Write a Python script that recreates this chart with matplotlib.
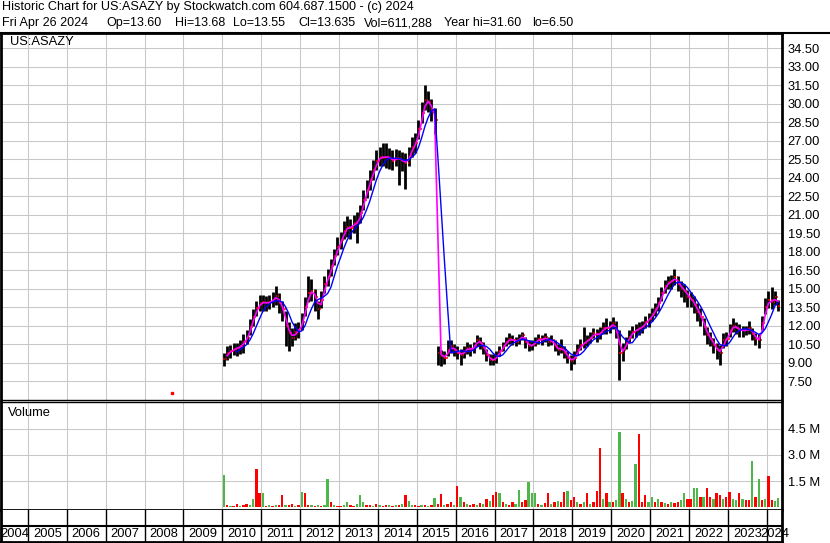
import numpy as np
import pandas as pd
import matplotlib
matplotlib.use('Agg')
import matplotlib.pyplot as plt

# monthly bars, Jan 2010 .. Apr 2024
first_year = 2010
closes = [
    9.3, 9.8, 9.9, 10.1, 10.2, 10.3, 10.7, 11.0, 11.9, 12.7, 13.4, 13.8,      # 2010
    13.9, 13.8, 13.9, 14.1, 14.4, 13.8, 13.3, 12.0, 11.4, 11.0, 11.5, 11.6,   # 2011
    12.3, 13.5, 14.6, 14.8, 14.3, 13.3, 14.1, 15.4, 15.9, 16.8, 17.6, 18.4,   # 2012
    18.9, 19.7, 20.0, 19.9, 20.3, 20.3, 21.1, 22.2, 23.0, 23.8, 24.6, 25.3,   # 2013
    25.7, 25.6, 25.7, 25.6, 25.3, 25.6, 25.5, 25.3, 25.2, 25.7, 26.5, 26.8,   # 2014
    27.9, 29.2, 30.3, 30.1, 29.5, 28.7, 9.8, 9.5, 9.4, 10.0, 10.3, 10.0,      # 2015
    9.8, 9.6, 9.9, 10.2, 10.0, 10.3, 10.8, 10.6, 10.2, 9.6, 9.2, 9.2,         # 2016
    9.5, 9.9, 10.3, 10.7, 10.9, 10.8, 10.7, 10.9, 11.2, 10.7, 10.3, 10.4,     # 2017
    10.7, 10.9, 10.8, 11.1, 10.7, 10.8, 10.3, 10.0, 10.2, 9.8, 9.4, 9.1,      # 2018
    9.4, 10.0, 10.4, 10.6, 10.8, 11.0, 11.4, 11.2, 11.4, 11.8, 11.8, 11.9,    # 2019
    12.2, 11.5, 9.8, 10.0, 10.6, 11.1, 11.5, 11.6, 11.8, 11.9, 12.3, 12.5,    # 2020
    12.9, 13.3, 13.8, 14.6, 15.2, 15.5, 15.6, 15.9, 15.4, 15.0, 14.8, 14.3,   # 2021
    14.1, 13.7, 13.1, 12.7, 11.9, 11.2, 10.9, 10.4, 10.0, 9.8, 10.8, 10.9,    # 2022
    11.6, 12.0, 11.8, 11.6, 11.6, 11.6, 11.8, 11.3, 10.9, 10.8, 12.2, 13.5,   # 2023
    14.1, 13.9, 14.3, 13.6,                                                   # 2024
]
highs = [
    9.8, 10.3, 10.4, 10.6, 10.6, 10.8, 11.3, 11.6, 12.5, 13.3, 14.0, 14.5,
    14.5, 14.4, 14.5, 14.7, 15.2, 14.6, 14.0, 13.2, 12.3, 11.8, 12.2, 12.3,
    13.0, 14.3, 16.0, 15.8, 15.0, 14.0, 14.8, 16.0, 16.6, 17.4, 18.2, 19.2,
    19.6, 20.5, 20.9, 20.6, 21.0, 21.2, 21.8, 23.0, 23.8, 24.6, 25.4, 26.2,
    26.5, 26.8, 26.8, 26.4, 26.2, 26.3, 26.2, 26.1, 26.0, 26.5, 27.3, 27.6,
    28.7, 30.1, 31.5, 31.0, 30.4, 29.6, 10.3, 10.0, 9.9, 10.8, 10.8, 10.5,
    10.3, 10.1, 10.3, 10.7, 10.5, 10.7, 11.2, 11.1, 10.7, 10.1, 9.7, 9.7,
    9.9, 10.3, 10.7, 11.1, 11.4, 11.2, 11.1, 11.3, 11.5, 11.1, 10.8, 10.8,
    11.1, 11.3, 11.2, 11.4, 11.1, 11.2, 10.8, 10.5, 10.9, 10.3, 9.9, 9.6,
    9.9, 10.5, 10.9, 11.9, 11.2, 11.5, 11.8, 11.7, 11.9, 12.3, 12.6, 12.4,
    12.7, 12.4, 11.6, 10.6, 11.1, 11.6, 12.0, 12.1, 12.3, 12.4, 12.8, 13.0,
    13.4, 13.8, 14.3, 15.1, 15.7, 16.0, 16.1, 16.6, 16.0, 15.6, 15.4, 14.9,
    14.7, 14.4, 13.8, 13.4, 12.6, 11.9, 11.5, 11.0, 10.6, 10.4, 11.4, 11.5,
    12.1, 12.6, 12.3, 12.1, 12.0, 12.0, 12.4, 11.8, 11.4, 11.3, 12.8, 14.2,
    14.8, 15.1, 14.8, 14.1,
]
lows = [
    8.7, 9.2, 9.4, 9.6, 9.5, 9.7, 9.8, 10.5, 11.2, 12.0, 12.8, 13.2,
    13.2, 13.2, 13.3, 13.5, 13.7, 13.0, 12.4, 10.3, 9.9, 10.3, 10.8, 11.0,
    11.6, 12.8, 13.9, 14.0, 13.2, 12.5, 13.4, 14.6, 15.2, 16.0, 16.9, 17.7,
    18.2, 19.0, 19.2, 19.0, 19.5, 18.7, 20.3, 21.4, 22.3, 23.0, 23.8, 24.6,
    24.9, 24.9, 24.8, 24.7, 24.6, 24.9, 23.4, 24.5, 23.1, 24.9, 25.7, 26.0,
    27.1, 28.4, 29.5, 29.3, 28.6, 27.5, 8.8, 8.7, 8.9, 9.5, 9.8, 9.5,
    9.3, 8.8, 9.4, 9.7, 9.5, 9.8, 10.3, 10.1, 9.7, 9.1, 8.8, 8.8,
    9.0, 9.5, 9.9, 10.3, 10.5, 10.4, 10.3, 10.5, 10.8, 10.2, 9.9, 10.0,
    10.3, 10.5, 10.4, 10.7, 10.3, 10.4, 9.9, 9.6, 9.8, 9.4, 9.0, 8.4,
    8.9, 9.6, 10.0, 10.2, 10.3, 10.6, 11.0, 10.7, 10.9, 11.3, 11.3, 11.4,
    11.7, 11.0, 7.6, 9.1, 10.1, 10.6, 11.0, 11.1, 11.2, 11.4, 11.8, 11.9,
    12.4, 12.8, 13.2, 14.0, 14.6, 15.0, 15.0, 15.3, 14.8, 14.3, 13.9, 13.5,
    13.5, 13.0, 12.4, 12.0, 11.2, 10.5, 10.3, 9.8, 9.3, 8.8, 10.2, 10.3,
    11.1, 11.5, 11.3, 11.1, 11.1, 11.2, 11.3, 10.8, 10.4, 10.2, 11.6, 12.9,
    13.4, 13.3, 13.7, 13.2,
]
# volume in millions, g = up, r = down
volumes = [
    1.85, 0.15, 0.10, 0.10, 0.20, 0.10, 0.12, 0.17, 0.12, 0.50, 2.20, 0.85,
    0.85, 0.10, 0.15, 0.10, 0.12, 0.15, 0.70, 0.15, 0.12, 0.20, 0.10, 0.15,
    0.90, 0.85, 0.12, 0.15, 0.10, 0.12, 0.10, 0.15, 1.60, 0.30, 0.12, 0.10,
    0.10, 0.12, 0.30, 0.15, 0.10, 0.20, 0.70, 0.30, 0.15, 0.12, 0.10, 0.20,
    0.15, 0.10, 0.12, 0.15, 0.10, 0.12, 0.15, 0.20, 0.70, 0.35, 0.15, 0.12,
    0.10, 0.15, 0.12, 0.10, 0.15, 0.55, 0.20, 0.75, 0.15, 0.20, 0.30, 0.15,
    1.20, 0.60, 0.30, 0.20, 0.15, 0.20, 0.15, 0.25, 0.20, 0.50, 0.35, 0.70,
    0.90, 0.85, 0.30, 0.20, 0.15, 0.30, 0.20, 1.00, 0.30, 0.40, 1.45, 0.85,
    0.85, 0.20, 0.15, 0.25, 0.80, 0.20, 0.30, 0.35, 0.30, 0.90, 0.95, 0.40,
    0.60, 0.30, 0.20, 0.30, 0.85, 0.20, 0.30, 0.95, 3.40, 0.50, 0.80, 0.30,
    0.30, 0.40, 4.30, 0.80, 0.50, 0.30, 0.35, 2.50, 4.20, 0.30, 0.70, 0.30,
    0.60, 0.30, 0.50, 0.30, 0.25, 0.20, 0.30, 0.25, 0.30, 0.40, 0.85, 0.50,
    0.50, 1.10, 1.10, 0.60, 0.60, 1.10, 0.60, 0.50, 0.85, 0.70, 0.50, 0.60,
    0.90, 0.50, 0.40, 0.80, 0.50, 0.40, 0.40, 2.65, 0.60, 1.60, 0.40, 0.50,
    1.80, 0.40, 0.35, 0.55,
]
vol_dir = ("grgrrgrrggrr" "grgrgrrgrrgr" "grrgrgrggrgr" "rggrrgggrrgr"
           "grrgrgrgrggr" "rgrgrgrrgrrg" "rgrgrrgrgrgr" "rgrgrrggrrgg"
           "grgrrgrgrrgr" "rgrgrgrrrgrg" "rggrgrggrrrg" "grgrgrgrrggr"
           "rggrgrrgrrgr" "rggrgrrgrgrg" "rrgg")
# lone early print
early_date = 2008.7
early_price = 6.5
early_vol = 0.04

price_ticks = [7.5, 9.0, 10.5, 12.0, 13.5, 15.0, 16.5, 18.0, 19.5, 21.0,
               22.5, 24.0, 25.5, 27.0, 28.5, 30.0, 31.5, 33.0, 34.5]
vol_ticks = [1.5, 3.0, 4.5]
vol_labels = ['1.5 M', '3.0 M', '4.5 M']
years = list(range(2004, 2025))
x_start, x_end = 2004.31, 2024.39

header1 = 'Historic Chart for US:ASAZY by Stockwatch.com 604.687.1500 - (c) 2024'
header2 = ['Fri Apr 26 2024', 'Op=13.60', 'Hi=13.68', 'Lo=13.55', 'Cl=13.635',
           'Vol=611,288', 'Year hi=31.60', 'lo=6.50']
header2_x = [2, 106, 175, 233, 298, 364, 444, 532]

plt.rcParams['font.family'] = ['Liberation Sans', 'DejaVu Sans']

W, H = 830, 543
fig = plt.figure(figsize=(W / 100, H / 100), dpi=100)


def rect(x0, y0, x1, y1):
    return [x0 / W, 1 - y1 / H, (x1 - x0) / W, (y1 - y0) / H]


dates = first_year + np.arange(len(closes)) / 12 + 1 / 24
cl = pd.Series(closes)
opens = cl.shift(1).fillna(cl[0])
ma_short = cl.rolling(2).mean()
ma_long = cl.rolling(5).mean()
grid_c = '#c8c8c8'

# price panel
ax = fig.add_axes(rect(1, 33, 782, 400))
ax.set_xlim(x_start, x_end)
ax.set_ylim(5.96, 35.72)
for y in price_ticks:
    ax.axhline(y, color=grid_c, lw=0.75, zorder=0)
for yr in years[1:]:
    ax.axvline(yr, color=grid_c, lw=0.75, zorder=0)
ax.vlines(dates, lows, highs, color='black', lw=2.0, zorder=2)
ax.hlines(opens, dates - 0.03, dates, color='red', lw=1.1, zorder=3)
ax.hlines(closes, dates, dates + 0.035, color='red', lw=1.1, zorder=3)
ax.plot(dates, ma_short, color='#ff00ff', lw=1.2, zorder=4)
ax.plot(dates, ma_long, color='#0000ff', lw=1.0, zorder=5)
ax.plot([early_date], [early_price], 's', color='red', ms=1.5, zorder=3)
ax.yaxis.tick_right()
ax.set_yticks(price_ticks)
ax.set_yticklabels(['%.2f' % v for v in price_ticks])
ax.tick_params(axis='y', length=0, pad=4, labelsize=9.3)
ax.set_xticks([])
ax.text(0.012, 0.992, 'US:ASAZY', transform=ax.transAxes, va='top',
        ha='left', fontsize=9.3)
for s in ['top', 'left', 'right']:
    ax.spines[s].set_linewidth(2)
ax.spines['bottom'].set_linewidth(1)

# volume panel
axv = fig.add_axes(rect(1, 402, 782, 510))
axv.set_xlim(x_start, x_end)
axv.set_ylim(-0.15, 6.03)
for y in vol_ticks:
    axv.axhline(y, color=grid_c, lw=0.75, zorder=0)
for yr in years[1:]:
    axv.axvline(yr, color=grid_c, lw=0.75, zorder=0)
colors = ['#4cb848' if d == 'g' else '#ff0000' for d in vol_dir]
axv.bar(dates, volumes, width=0.06, color=colors, bottom=0, zorder=2)
axv.bar([early_date - 0.05], [early_vol], width=0.06, color='#4cb848')
axv.yaxis.tick_right()
axv.set_yticks(vol_ticks)
axv.set_yticklabels(vol_labels)
axv.tick_params(axis='y', length=0, pad=4, labelsize=9.3)
axv.set_xticks([])
axv.text(0.009, 0.95, 'Volume', transform=axv.transAxes, va='top',
         ha='left', fontsize=9.3)
axv.spines['top'].set_linewidth(1)
for s in ['bottom', 'left', 'right']:
    axv.spines[s].set_linewidth(2)

# date band
axd = fig.add_axes(rect(1, 510, 782, 542))
axd.set_xlim(x_start, x_end)
axd.set_ylim(0, 1)
axd.axhline(0.5, color='black', lw=1.5)
for yr in years[1:]:
    axd.axvline(yr, color='black', lw=1)
for yr in years:
    c = (max(yr, x_start) + min(yr + 1, x_end)) / 2
    axd.text(c, 0.24, str(yr), ha='center', va='center', fontsize=9.3,
             family=['Liberation Sans Narrow', 'Liberation Sans'],
             clip_on=False)
axd.set_xticks([])
axd.set_yticks([])
axd.spines['top'].set_visible(False)
for s in ['bottom', 'left', 'right']:
    axd.spines[s].set_linewidth(2)

# header
fig.text(2 / W, 1 - 1 / H, header1, va='top', ha='left', fontsize=9.1)
for txt, x in zip(header2, header2_x):
    fig.text(x / W, 1 - 17 / H, txt, va='top', ha='left', fontsize=9.0)
fig.add_artist(plt.Line2D([0, 1], [1 - 33 / H, 1 - 33 / H], color='black',
                          lw=1.5, transform=fig.transFigure))

fig.savefig('out.png', dpi=100, facecolor='white')
